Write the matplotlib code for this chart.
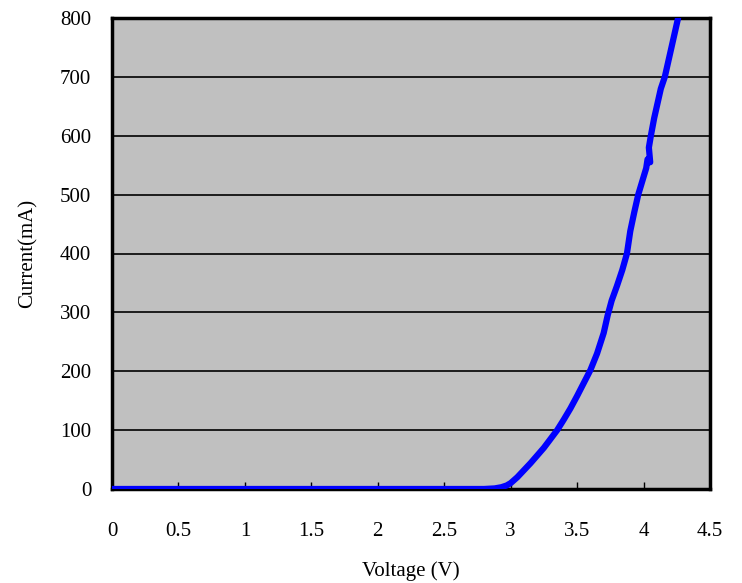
import matplotlib
matplotlib.use("Agg")
import matplotlib.pyplot as plt

voltage = [0.0, 1.0, 2.0, 2.5, 2.8, 2.88, 2.93, 2.97, 3.0, 3.05, 3.1,
           3.15, 3.2, 3.25, 3.3, 3.35, 3.4, 3.45, 3.5, 3.55, 3.6, 3.65,
           3.7, 3.73, 3.76, 3.8, 3.84, 3.875, 3.9, 3.93, 3.96, 4.0, 4.02,
           4.03, 4.05, 4.04, 4.055, 4.08, 4.1, 4.13, 4.16, 4.2, 4.23, 4.26]
current = [0, 0, 0, 0, 0, 1, 3, 6, 10, 20, 32,
           44, 57, 70, 85, 100, 118, 137, 158, 180, 202, 230,
           265, 295, 320, 345, 372, 400, 438, 470, 500, 530, 545,
           560, 555, 580, 600, 630, 650, 680, 700, 740, 770, 800]

x_ticks = [0, 0.5, 1, 1.5, 2, 2.5, 3, 3.5, 4, 4.5]
y_ticks = [0, 100, 200, 300, 400, 500, 600, 700, 800]

plt.rcParams['font.family'] = ['Liberation Serif', 'DejaVu Serif']

fig = plt.figure(figsize=(7.42, 5.83), dpi=100)
ax = fig.add_axes([112 / 742, 1 - 489 / 583, 598 / 742, 471 / 583])
ax.set_facecolor('#c0c0c0')

ax.plot(voltage, current, color='#0000ff', linewidth=4.5, solid_capstyle='round',
        solid_joinstyle='round', zorder=5)

ax.set_xlim(0, 4.5)
ax.set_ylim(0, 800)
ax.set_xticks(x_ticks)
ax.set_xticklabels([f"{t:g}" for t in x_ticks])
ax.set_yticks(y_ticks)
ax.grid(axis='y', color='black', linewidth=1.2)
ax.set_axisbelow(True)

ax.tick_params(axis='x', direction='in', length=5, width=1, pad=24, labelsize=15)
ax.tick_params(axis='y', length=0, pad=15, labelsize=15)

for s in ax.spines.values():
    s.set_linewidth(2.5)
    s.set_color('black')

ax.set_xlabel('Voltage (V)', fontsize=15, labelpad=14)
ax.set_ylabel('Current(mA)', fontsize=15, labelpad=16)

fig.savefig('out.png', dpi=100)
